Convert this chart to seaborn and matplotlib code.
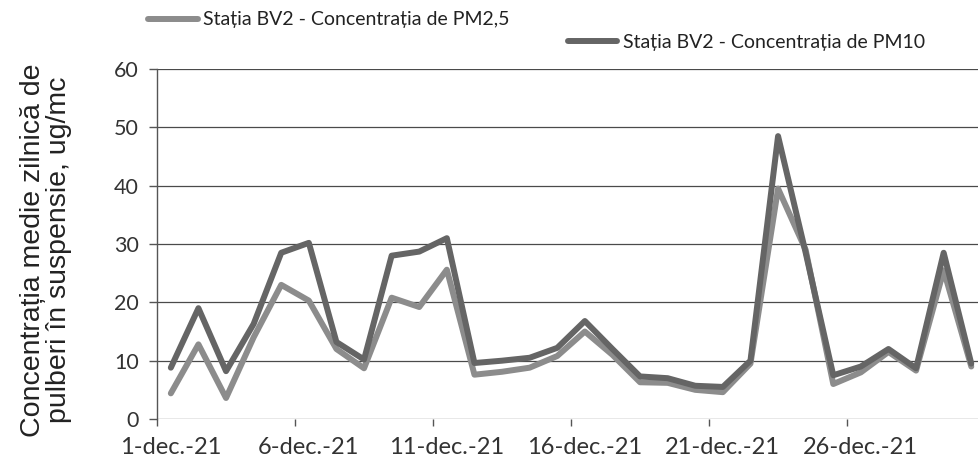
import numpy as np
import pandas as pd
import matplotlib
matplotlib.use("Agg")
import matplotlib.pyplot as plt
import seaborn as sns

# --- DATEN ---
days = list(range(1, 31))
pm25 = [4.4, 12.8, 3.6, 14.0, 23.0, 20.3, 12.0, 8.7, 20.8, 19.2,
        25.6, 7.6, 8.1, 8.8, 10.8, 15.0, 11.0, 6.3, 6.2, 5.0,
        4.6, 9.5, 39.5, 29.0, 6.0, 8.0, 11.5, 8.3, 25.5, 9.0]
pm10 = [8.8, 19.0, 8.2, 16.3, 28.5, 30.2, 13.2, 10.2, 28.0, 28.7,
        31.0, 9.6, 10.0, 10.5, 12.2, 16.8, 12.0, 7.3, 7.0, 5.7,
        5.5, 10.0, 48.5, 28.5, 7.5, 9.0, 12.0, 8.7, 28.5, 9.5]
tick_days = [1, 6, 11, 16, 21, 26]
tick_labels = ["1-dec.-21", "6-dec.-21", "11-dec.-21", "16-dec.-21",
               "21-dec.-21", "26-dec.-21"]
y_ticks = [0, 10, 20, 30, 40, 50, 60]

label_pm25 = "Stația BV2 - Concentrația de PM2,5"
label_pm10 = "Stația BV2 - Concentrația de PM10"

sns.set_theme(style="white")
plt.rcParams["font.family"] = ["Lato", "DejaVu Sans"]

df = pd.DataFrame({"zi": np.array(days) - 1, "pm25": pm25, "pm10": pm10})

fig = plt.figure(figsize=(9.79, 4.74), dpi=100)
ax = fig.add_axes([0.1604, 0.1160, 0.874, 0.7384])

sns.lineplot(data=df, x="zi", y="pm25", ax=ax, color="#8c8c8c", lw=4.3,
             label=label_pm25)
sns.lineplot(data=df, x="zi", y="pm10", ax=ax, color="#656565", lw=4.3,
             label=label_pm10)
handles, labels = ax.get_legend_handles_labels()
ax.get_legend().remove()

ax.set_xlim(-0.5, 30.5)
ax.set_ylim(0, 60)
ax.set_yticks(y_ticks)
ax.yaxis.grid(True, color="#4a4a4a", lw=0.9)
ax.xaxis.grid(False)
for s in ["top", "right", "bottom"]:
    ax.spines[s].set_visible(False)
ax.spines["left"].set_color("#555555")
ax.spines["left"].set_linewidth(1.0)

# Tickmarks zwischen den Kategorien, Beschriftung auf den Punkten
ax.set_xticks(np.arange(-0.5, 31, 5))
ax.set_xticklabels([])
ax.set_xticks([d - 1 for d in tick_days], tick_labels, minor=True)
ax.tick_params(axis="x", which="major", length=5, color="#555555", width=1,
               direction="out", bottom=True)
ax.tick_params(axis="x", which="minor", length=0, pad=13, labelsize=17,
               labelcolor="#333333")
ax.tick_params(axis="y", length=6, color="#555555", width=1, left=True,
               direction="out", pad=7, labelsize=15.5, labelcolor="#333333")

ax.set_xlabel("")
ax.set_ylabel("")
fig.text(0.047, 0.473, "Concentrația medie zilnică de\npulberi în suspensie, ug/mc",
         rotation=90, ha="center", va="center", fontsize=20.5,
         family=["Liberation Sans", "DejaVu Sans"], color="#222222",
         linespacing=1.0, multialignment="center")

# zwei Legendeneintraege auf unterschiedlicher Hoehe (wie im Original)
leg_kw = dict(loc="center left", frameon=False, fontsize=14, handlelength=2.55,
              handletextpad=0.3, borderpad=0, borderaxespad=0,
              labelcolor="#222222")
fig.legend([handles[0]], [labels[0]], bbox_to_anchor=(0.1511, 0.958), **leg_kw)
fig.legend([handles[1]], [labels[1]], bbox_to_anchor=(0.5800, 0.911), **leg_kw)

fig.savefig("out.png", dpi=100, facecolor="white")
